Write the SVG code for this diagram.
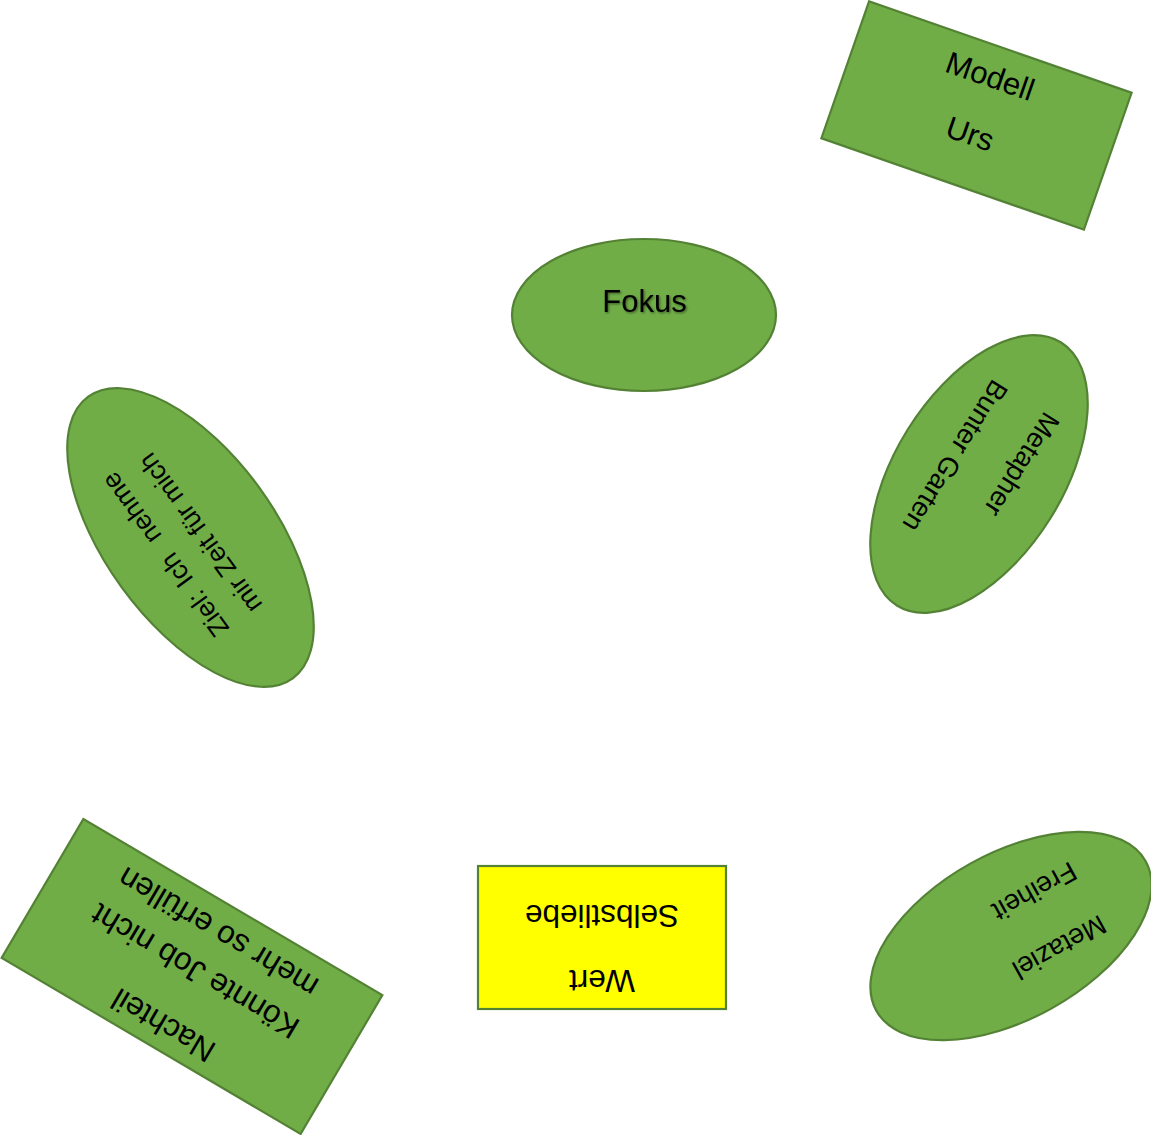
<svg xmlns="http://www.w3.org/2000/svg" width="1151" height="1135" viewBox="0 0 1151 1135">
  <style>
    .shape { fill: #70AD47; stroke: #548235; stroke-width: 2.2; }
    .yellow { fill: #FFFF00; stroke: #548235; stroke-width: 2.2; }
    .t { font-family: "Liberation Sans", Arial, sans-serif; fill: #000000; }
  </style>
  <defs>
    <filter id="shadow" x="-20%" y="-40%" width="140%" height="180%">
      <feDropShadow dx="1.2" dy="1.2" stdDeviation="0.8" flood-color="#000000" flood-opacity="0.45"/>
    </filter>
  </defs>
  <rect width="1151" height="1135" fill="#FFFFFF"/>
  <g id="connectors"/>

  <g id="node-modell" transform="translate(976.5,115.5) rotate(19.2)">
    <rect class="shape" x="-139" y="-72.5" width="278" height="145"/>
    <text class="t" font-size="31" text-anchor="middle" x="0" y="-31">Modell</text>
    <text class="t" font-size="31" text-anchor="middle" x="0" y="30">Urs</text>
  </g>

  <g id="node-fokus">
    <ellipse class="shape" cx="644" cy="315" rx="132" ry="76"/>
    <text class="t" font-size="31" text-anchor="middle" x="644.5" y="312" filter="url(#shadow)">Fokus</text>
  </g>

  <g id="node-metapher" transform="translate(979,474) rotate(122)">
    <ellipse class="shape" cx="0" cy="0" rx="155" ry="84"/>
    <text class="t" font-size="27.5" x="-89" y="-22">Metapher</text>
    <text class="t" font-size="27.5" x="-89" y="39">Bunter Garten</text>
  </g>

  <g id="node-ziel" transform="translate(190.5,537.5) rotate(234)">
    <ellipse class="shape" cx="0" cy="0" rx="174" ry="85"/>
    <text class="t" font-size="26.5" y="-21.5"><tspan x="-97">Ziel:</tspan><tspan x="-36">Ich</tspan><tspan x="18">nehme</tspan></text>
    <text class="t" font-size="26.5" text-anchor="middle" x="-2" y="19.5">mir Zeit für mich</text>
  </g>

  <g id="node-nachteil" transform="translate(192,976.5) rotate(210.5)">
    <rect class="shape" x="-173.5" y="-80.5" width="347" height="161"/>
    <text class="t" font-size="31.5" text-anchor="middle" x="0" y="-46">Nachteil</text>
    <text class="t" font-size="31.5" text-anchor="middle" x="0" y="17">Könnte Job nicht</text>
    <text class="t" font-size="31.5" text-anchor="middle" x="0" y="62">mehr so erfüllen</text>
  </g>

  <g id="node-wert">
    <rect class="yellow" x="478" y="866" width="248" height="143"/>
    <g transform="translate(602,937.5) rotate(180)">
      <text class="t" font-size="31.5" text-anchor="middle" x="0" y="-32.5">Wert</text>
      <text class="t" font-size="31.5" text-anchor="middle" x="0" y="32.5">Selbstliebe</text>
    </g>
  </g>

  <g id="node-metaziel" transform="translate(1011,936) rotate(151)">
    <ellipse class="shape" cx="0" cy="0" rx="154" ry="83"/>
    <text class="t" font-size="27.5" x="-88" y="-24">Metaziel</text>
    <text class="t" font-size="27.5" x="-88" y="37">Freiheit</text>
  </g>
</svg>
